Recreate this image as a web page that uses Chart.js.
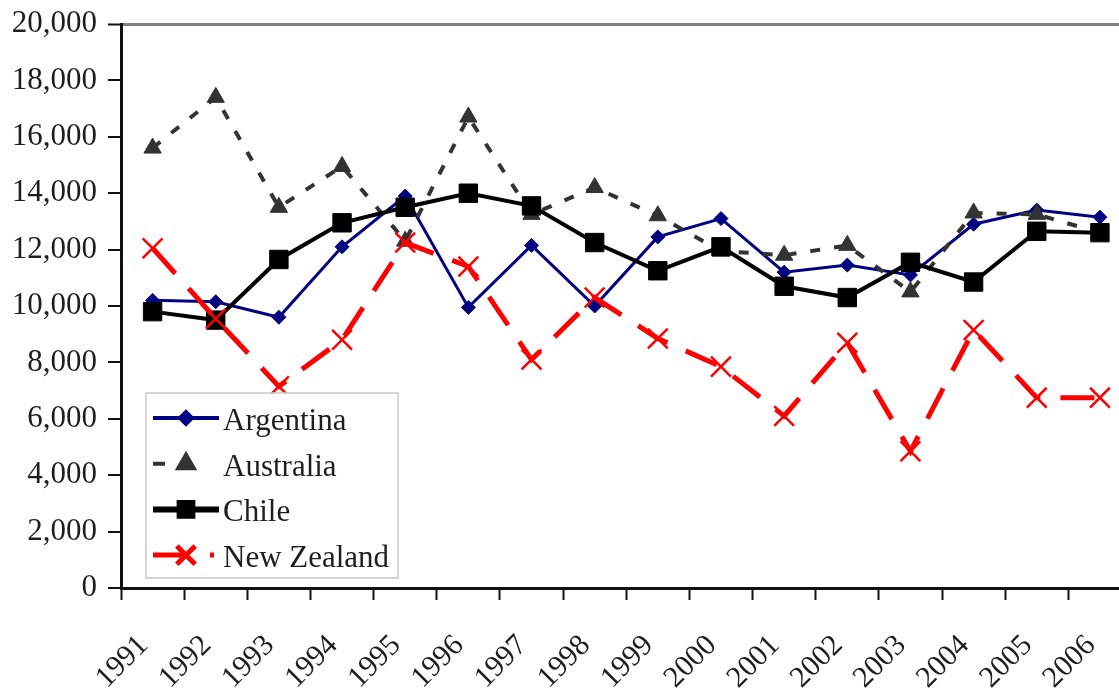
<!DOCTYPE html>
<html>
<head>
<meta charset="utf-8">
<script src="https://cdn.jsdelivr.net/npm/chart.js@4.4.1/dist/chart.umd.min.js"></script>
<style>
  html, body { margin: 0; padding: 0; background: #fff; overflow: hidden; width: 1119px; height: 688px; }
  canvas { display: block; }
</style>
</head>
<body>
<canvas id="chart" width="1148" height="688" style="width:1148px;height:688px"></canvas>
<script>
// Annual figures by country, 1991-2006
const years = ['1991', '1992', '1993', '1994', '1995', '1996', '1997', '1998',
               '1999', '2000', '2001', '2002', '2003', '2004', '2005', '2006'];

const argentina  = [10200, 10150, 9600, 12100, 13900, 9950, 12150, 10000,
                    12450, 13100, 11200, 11450, 11100, 12900, 13400, 13150];
const australia  = [15600, 17400, 13500, 14950, 12300, 16700, 13250, 14200,
                    13200, 11950, 11800, 12150, 10500, 13300, 13250, 12600];
const chile      = [9800, 9500, 11650, 12950, 13500, 14000, 13550, 12250,
                    11250, 12100, 10700, 10300, 11550, 10850, 12650, 12600];
const newZealand = [12050, 9550, 7150, 8800, 12250, 11400, 8100, 10300,
                    8850, 7850, 6100, 8700, 4850, 9150, 6750, 6750];

const yMin = 0, yMax = 20000, yStep = 2000;

const FONT = "'Liberation Serif', 'Times New Roman', serif";
const TEXT = '#1e1e1e';

// Framed legend drawn inside the plot, lower left
const boxLegend = {
  id: 'boxLegend',
  afterDatasetsDraw(chart) {
    const ctx = chart.ctx;
    const bx = 146, by = 393, bw = 252, bh = 185;
    ctx.save();
    ctx.fillStyle = '#fff';
    ctx.fillRect(bx, by, bw, bh);
    ctx.strokeStyle = '#c8c8c8';
    ctx.lineWidth = 1.5;
    ctx.strokeRect(bx, by, bw, bh);

    chart.data.datasets.forEach((ds, i) => {
      const baseY = 430 + i * 45.7;
      const lineY = baseY - 12;
      ctx.save();
      ctx.beginPath();
      ctx.rect(bx + 6, lineY - 15, 67, 30);
      ctx.clip();
      ctx.strokeStyle = ds.borderColor;
      ctx.lineWidth = ds.legendLineWidth || ds.borderWidth;
      ctx.setLineDash(ds.legendDash || ds.borderDash || []);
      ctx.beginPath();
      ctx.moveTo(153, lineY);
      ctx.lineTo(219, lineY);
      ctx.stroke();
      ctx.setLineDash([]);
      ctx.fillStyle = ds.pointBackgroundColor;
      ctx.strokeStyle = ds.pointBorderColor;
      Chart.helpers.drawPoint(ctx, {
        pointStyle: ds.pointStyle,
        rotation: 0,
        radius: ds.legendPointRadius || ds.pointRadius,
        borderWidth: ds.pointBorderWidth
      }, 186, lineY);
      ctx.restore();

      ctx.fillStyle = TEXT;
      ctx.font = '31px ' + FONT;
      ctx.textAlign = 'left';
      ctx.textBaseline = 'alphabetic';
      ctx.fillText(ds.label, 223, baseY);
    });
    ctx.restore();
  }
};

new Chart(document.getElementById('chart'), {
  type: 'line',
  data: {
    labels: years,
    datasets: [
      {
        label: 'Argentina',
        data: argentina,
        order: 4,
        borderColor: '#000080',
        borderWidth: 3,
        pointStyle: 'rectRot',
        pointRadius: 7,
        pointBackgroundColor: '#000080',
        pointBorderColor: '#000080',
        pointBorderWidth: 1,
        legendLineWidth: 4,
        legendPointRadius: 6
      },
      {
        label: 'Australia',
        data: australia,
        order: 3,
        borderColor: '#333333',
        borderWidth: 4,
        borderDash: [10, 14],
        legendDash: [12, 9, 0, 100],
        pointStyle: 'triangle',
        pointRadius: 10,
        pointBackgroundColor: '#333333',
        pointBorderColor: '#333333',
        pointBorderWidth: 1,
        legendPointRadius: 9
      },
      {
        label: 'Chile',
        data: chile,
        order: 2,
        borderColor: '#000000',
        borderWidth: 4,
        pointStyle: 'rect',
        pointRadius: 13,
        pointBackgroundColor: '#000000',
        pointBorderColor: '#000000',
        pointBorderWidth: 1,
        legendLineWidth: 6,
        legendPointRadius: 9
      },
      {
        label: 'New Zealand',
        data: newZealand,
        order: 1,
        borderColor: '#ff0000',
        borderWidth: 5,
        borderDash: [34, 20],
        legendDash: [33, 24, 4, 100],
        pointStyle: 'crossRot',
        pointRadius: 14,
        pointBackgroundColor: '#ff0000',
        pointBorderColor: '#ff0000',
        pointBorderWidth: 2.5,
        legendPointRadius: 13
      }
    ]
  },
  options: {
    responsive: false,
    animation: false,
    devicePixelRatio: 1,
    layout: { padding: { top: 24, left: 0, right: 0, bottom: 0 } },
    elements: { line: { tension: 0 } },
    plugins: {
      legend: { display: false },
      tooltip: { enabled: false }
    },
    scales: {
      x: {
        type: 'category',
        offset: true,
        afterFit(scale) {
          scale.height = 100;
          scale.paddingLeft = 0;
          scale.paddingRight = 0;
        },
        grid: {
          offset: true,
          drawOnChartArea: false,
          drawTicks: true,
          tickLength: 12,
          tickColor: '#111',
          tickWidth: 2
        },
        border: { display: true, color: '#111', width: 3 },
        ticks: {
          autoSkip: false,
          maxRotation: 45,
          minRotation: 45,
          padding: 28,
          labelOffset: -9,
          color: TEXT,
          font: { family: FONT, size: 30 }
        }
      },
      y: {
        min: yMin,
        max: yMax,
        afterFit(scale) {
          scale.width = 121;
          scale.paddingTop = 0;
          scale.paddingBottom = 0;
        },
        grid: {
          drawOnChartArea: true,
          color: (c) => (c.tick && c.tick.value === yMax ? '#808080' : 'rgba(0,0,0,0)'),
          lineWidth: (c) => (c.tick && c.tick.value === yMax ? 3 : 0),
          tickLength: 13,
          tickColor: '#111',
          tickWidth: 2
        },
        border: { display: true, color: '#111', width: 3 },
        ticks: {
          stepSize: yStep,
          padding: 11,
          color: TEXT,
          font: { family: FONT, size: 31 },
          callback: (v) => Number(v).toLocaleString('en-US')
        }
      }
    }
  },
  plugins: [boxLegend]
});
</script>
</body>
</html>
